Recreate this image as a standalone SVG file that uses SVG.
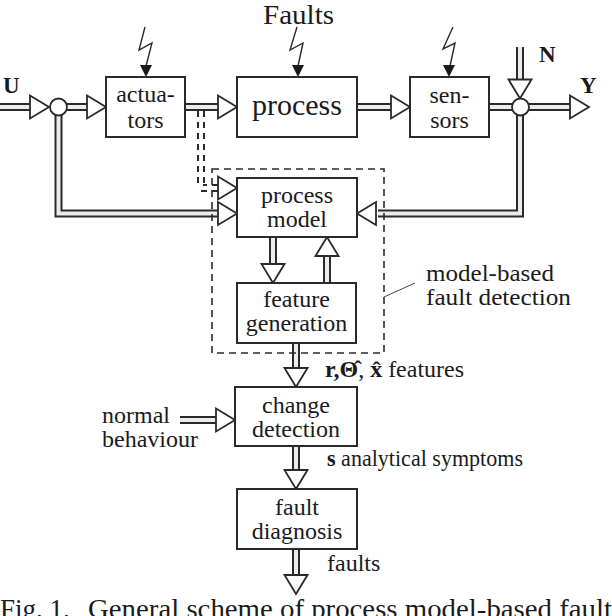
<svg xmlns="http://www.w3.org/2000/svg" xmlns:xlink="http://www.w3.org/1999/xlink" width="612" height="616" viewBox="0 0 612 616" font-family="'Liberation Serif', 'DejaVu Serif', serif">
<style>
text{font-family:'Liberation Serif','DejaVu Serif',serif;fill:#1a1a1a}
.lb{font-size:24px;text-anchor:middle}
.t{font-size:24px}
.b{font-weight:bold}
.box{fill:#fff;stroke:#2a2a2a;stroke-width:2}
.po{fill:none;stroke:#2a2a2a;stroke-width:8;stroke-linejoin:miter}
.pi{fill:none;stroke:#ececec;stroke-width:4;stroke-linejoin:miter}
.pd{fill:none;stroke:#2a2a2a;stroke-width:8;stroke-dasharray:6 5}
.pdi{fill:none;stroke:#fff;stroke-width:4}
.ah{fill:#fff;stroke:#2a2a2a;stroke-width:1.8;stroke-linejoin:miter}
.bolt{fill:none;stroke:#2a2a2a;stroke-width:1.4}
.fh{fill:#1a1a1a}
.dash{fill:none;stroke:#2a2a2a;stroke-width:1.6;stroke-dasharray:7 5}
.cir{fill:#fff;stroke:#2a2a2a;stroke-width:1.8}
</style>
<defs>
<polygon id="ar" class="ah" points="-19,-11.5 0,0 -19,11.5"/>
</defs>
<rect width="612" height="616" fill="#fff"/>

<g id="connectors">
<path class="po" d="M0,107H30"/><path class="pi" d="M0,107H30"/>
<path class="po" d="M67,107H88"/><path class="pi" d="M67,107H88"/>
<path class="po" d="M185,107H219"/><path class="pi" d="M185,107H219"/>
<path class="po" d="M357,107H392"/><path class="pi" d="M357,107H392"/>
<path class="po" d="M489,107H512"/><path class="pi" d="M489,107H512"/>
<path class="po" d="M529,107H571"/><path class="pi" d="M529,107H571"/>
<path class="po" d="M520,47V80"/><path class="pi" d="M520,47V80"/>
<path class="po" d="M520,115V213.5H378"/><path class="pi" d="M520,115V213.5H378"/>
<path class="po" d="M58.5,115V213.5H219"/><path class="pi" d="M58.5,115V213.5H219"/>
<path class="pd" d="M201,111V188H219"/><path class="pdi" d="M201,111V188H219"/>
<path class="po" d="M273,237V264"/><path class="pi" d="M273,237V264"/>
<path class="po" d="M327,283V257"/><path class="pi" d="M327,283V257"/>
<path class="po" d="M296,343V369"/><path class="pi" d="M296,343V369"/>
<path class="po" d="M180,420H217"/><path class="pi" d="M180,420H217"/>
<path class="po" d="M296,446V471"/><path class="pi" d="M296,446V471"/>
<path class="po" d="M296,549V575"/><path class="pi" d="M296,549V575"/>

<use xlink:href="#ar" transform="translate(49,107)"/>
<use xlink:href="#ar" transform="translate(106,107)"/>
<use xlink:href="#ar" transform="translate(237,107)"/>
<use xlink:href="#ar" transform="translate(410,107)"/>
<use xlink:href="#ar" transform="translate(589,107)"/>
<use xlink:href="#ar" transform="translate(520,98.5) rotate(90)"/>
<use xlink:href="#ar" transform="translate(357,213.5) rotate(180)"/>
<use xlink:href="#ar" transform="translate(237,213.5)"/>
<use xlink:href="#ar" transform="translate(237,188)"/>
<use xlink:href="#ar" transform="translate(273,283) rotate(90)"/>
<use xlink:href="#ar" transform="translate(327,237) rotate(-90)"/>
<use xlink:href="#ar" transform="translate(296,387) rotate(90)"/>
<use xlink:href="#ar" transform="translate(235,420)"/>
<use xlink:href="#ar" transform="translate(296,489) rotate(90)"/>
<use xlink:href="#ar" transform="translate(296,594) rotate(90)"/>

<polyline class="bolt" points="145,27 139,50 152,43 146,66"/>
<polygon class="fh" points="140,65 152,65 146,77"/>
<polyline class="bolt" points="297,27 290,50 303,43 298,66"/>
<polygon class="fh" points="292,65 304,65 298,77"/>
<polyline class="bolt" points="453,27 443,49 455,43 450,66"/>
<polygon class="fh" points="443,65 455,65 449,77"/>

<line x1="384" y1="297" x2="415" y2="283" stroke="#444" stroke-width="1"/>
</g>

<g id="sum-u"><circle class="cir" cx="58.5" cy="107" r="8.5"/></g>
<g id="sum-y"><circle class="cir" cx="520.5" cy="107" r="8.5"/></g>

<g id="actuators">
<rect class="box" x="106" y="77" width="79" height="60"/>
<text class="lb" x="145.5" y="102">actua-</text>
<text class="lb" x="145.5" y="128">tors</text>
</g>
<g id="process">
<rect class="box" x="237" y="77" width="120" height="60"/>
<text class="lb" x="297" y="115" style="font-size:30px">process</text>
</g>
<g id="sensors">
<rect class="box" x="410" y="77" width="79" height="60"/>
<text class="lb" x="449.5" y="103">sen-</text>
<text class="lb" x="449.5" y="128">sors</text>
</g>
<g id="model-based-fault-detection">
<rect class="dash" x="212" y="169" width="172" height="184"/>
<text class="t" x="426" y="281" textLength="128" lengthAdjust="spacingAndGlyphs">model-based</text>
<text class="t" x="426" y="305" textLength="145" lengthAdjust="spacingAndGlyphs">fault detection</text>
</g>
<g id="process-model">
<rect class="box" x="237" y="178" width="120" height="59"/>
<text class="lb" x="297" y="203">process</text>
<text class="lb" x="297" y="227">model</text>
</g>
<g id="feature-generation">
<rect class="box" x="237" y="283" width="119" height="60"/>
<text class="lb" x="296.5" y="307">feature</text>
<text class="lb" x="296.5" y="331">generation</text>
</g>
<g id="change-detection">
<rect class="box" x="235" y="387" width="122" height="59"/>
<text class="lb" x="296" y="413">change</text>
<text class="lb" x="296" y="437">detection</text>
</g>
<g id="fault-diagnosis">
<rect class="box" x="237" y="489" width="120" height="60"/>
<text class="lb" x="297" y="515">fault</text>
<text class="lb" x="297" y="539">diagnosis</text>
</g>

<g id="labels">
<text x="263" y="24" style="font-size:27px" textLength="71" lengthAdjust="spacingAndGlyphs">Faults</text>
<text class="b" x="3" y="93" style="font-size:23px">U</text>
<text class="b" x="539" y="62" style="font-size:23px">N</text>
<text class="b" x="580" y="93" style="font-size:23px">Y</text>
<text class="t" x="325" y="377"><tspan class="b">r,Θ̂</tspan>, <tspan class="b">x̂</tspan> features</text>
<text class="t" x="102" y="423">normal</text>
<text class="t" x="102" y="447">behaviour</text>
<text class="t" x="327" y="466" textLength="196" lengthAdjust="spacingAndGlyphs"><tspan class="b">s</tspan> analytical symptoms</text>
<text class="t" x="327" y="571">faults</text>
<text x="0" y="618" style="font-size:27px">Fig. 1.</text>
<text x="88" y="618" style="font-size:27px" textLength="524" lengthAdjust="spacingAndGlyphs">General scheme of process model-based fault</text>
</g>
</svg>
